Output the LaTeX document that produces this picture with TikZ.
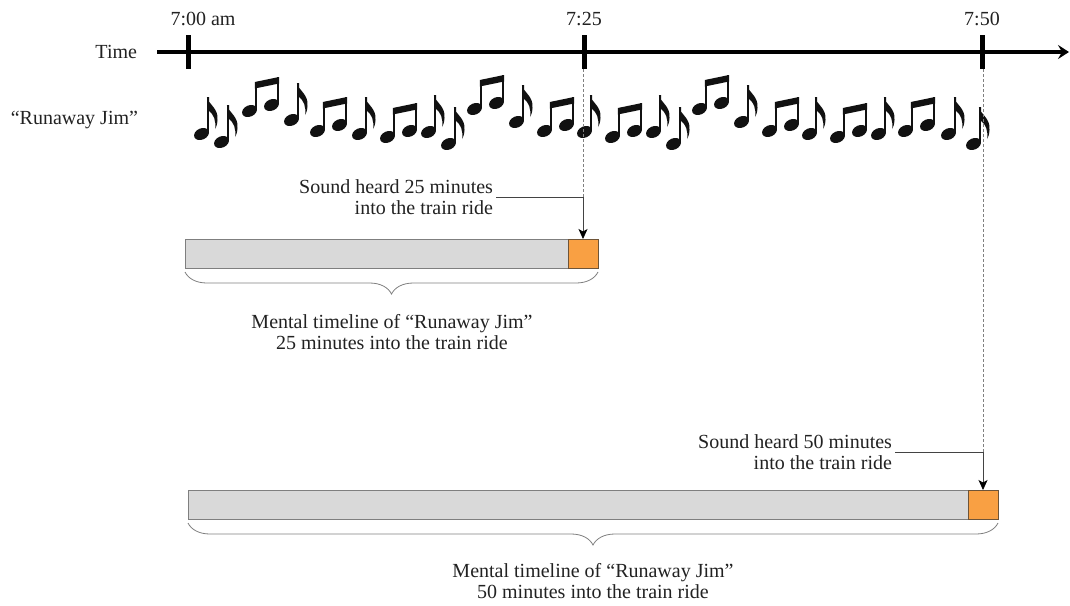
\documentclass[tikz,border=0pt]{standalone}
\usepackage{fontspec}
\setmainfont{Liberation Serif}
\usetikzlibrary{arrows.meta,decorations.pathreplacing}
\definecolor{txt}{HTML}{222222}
\definecolor{boxgray}{HTML}{D9D9D9}
\definecolor{boxedge}{HTML}{7F7F7F}
\definecolor{orng}{HTML}{F9A043}
\definecolor{orngedge}{HTML}{6E5438}
\definecolor{notec}{HTML}{111111}
\begin{document}
\begin{tikzpicture}[x=1pt,y=-1pt,
  font=\fontsize{20}{21}\selectfont, text=txt,
  every node/.style={inner sep=0pt, outer sep=0pt},
  timeline/.style={line width=4.5pt, -{Stealth[length=11pt,width=14pt,inset=4pt]}},
  tickmark/.style={line width=5pt},
  graybox/.style={draw=boxedge, fill=boxgray, line width=0.9pt, minimum height=29pt, anchor=north west},
  orangebox/.style={draw=orngedge, fill=orng, line width=0.9pt, minimum height=29pt, minimum width=30pt, anchor=north west},
  guide/.style={draw=gray, line width=0.6pt, dash pattern=on 3pt off 2pt},
  callout/.style={draw=txt!85, line width=0.8pt, -{Stealth[length=10pt,width=9pt,inset=2.5pt,color=black]}},
  bracestyle/.style={draw=gray, line width=0.8pt, decorate, decoration={brace, mirror, amplitude=22pt}},
  eighth/.pic={
    \fill[notec, rotate around={25:(6.5,37)}] (6.5,37) ellipse [x radius=7.8pt, y radius=5.6pt];
    \fill[notec] (11.8,36) rectangle (14,0);
    \fill[notec] (11.8,0) .. controls (14,8) and (23.5,11) .. (22.5,23) .. controls (22.2,27) and (21.5,29.5) .. (20.3,32) .. controls (21,24) and (19,17.5) .. (14,14) -- (14,0) -- cycle;
  },
  beamed/.pic={
    \fill[notec, rotate around={25:(7.5,34)}] (7.5,34) ellipse [x radius=7.8pt, y radius=5.6pt];
    \fill[notec, rotate around={25:(29.5,28)}] (29.5,28) ellipse [x radius=7.8pt, y radius=5.6pt];
    \fill[notec] (12.8,33) rectangle (15,5);
    \fill[notec] (34.8,27) rectangle (37,0);
    \fill[notec] (12.8,5) -- (37,0) -- (37,6.5) -- (12.8,11.5) -- cycle;
  }
]
\path[use as bounding box, fill=white] (0,0) rectangle (1070,605);

% time axis
\coordinate (tl0) at (157,52);
\coordinate (tl1) at (1069,52);
\draw[timeline] (tl0) -- (tl1);
\coordinate (k0a) at (188,35);  \coordinate (k0b) at (188,69);
\coordinate (k1a) at (584,35);  \coordinate (k1b) at (584,69);
\coordinate (k2a) at (982,35);  \coordinate (k2b) at (982,69);
\draw[tickmark] (k0a) -- (k0b);
\draw[tickmark] (k1a) -- (k1b);
\draw[tickmark] (k2a) -- (k2b);

\node[anchor=base] (l700) at (203,25) {7:00 am};
\node[anchor=base] (l725) at (584,25) {7:25};
\node[anchor=base] (l750) at (982,25) {7:50};
\node[anchor=base east] (ltime) at (137,58.6) {Time};
\node[anchor=base east] (lrun) at (138,124.6) {“Runaway Jim”};

% music notes
\pic at (195,97) {eighth};
\pic at (215,105) {eighth};
\pic at (242,77) {beamed};
\pic at (285,83) {eighth};
\pic at (310,97) {beamed};
\pic at (353,97) {eighth};
\pic at (380,103) {beamed};
\pic at (422,95) {eighth};
\pic at (442,107) {eighth};
\pic at (467,75) {beamed};
\pic at (510,85) {eighth};
\pic at (537,97) {beamed};
\pic at (578,95) {eighth};
\pic at (605,103) {beamed};
\pic at (647,95) {eighth};
\pic at (667,107) {eighth};
\pic at (692,75) {beamed};
\pic at (735,85) {eighth};
\pic at (762,97) {beamed};
\pic at (803,97) {eighth};
\pic at (830,103) {beamed};
\pic at (872,97) {eighth};
\pic at (898,97) {beamed};
\pic at (942,97) {eighth};
\pic at (967,107) {eighth};

% first mental timeline
\node[graybox, minimum width=383pt] (g1) at (185,239) {};
\node[orangebox] (o1) at (568,239) {};
\node[align=right, anchor=east] (c1) at (493,197) {Sound heard 25 minutes\\into the train ride};
\draw[guide] (o1.north |- k1b) -- (o1.north |- c1.east);
\draw[callout] ([xshift=3pt]c1.east) -| (o1.north);
\draw[bracestyle] ([yshift=-4pt]g1.south west) -- ([yshift=-4pt]o1.south east);
\node[align=center] (m1) at (392,332) {Mental timeline of “Runaway Jim”\\25 minutes into the train ride};

% second mental timeline
\node[graybox, minimum width=780pt] (g2) at (188,490) {};
\node[orangebox] (o2) at (968,490) {};
\node[align=right, anchor=east] (c2) at (892,452) {Sound heard 50 minutes\\into the train ride};
\draw[guide] (o2.north |- k2b) -- (o2.north |- c2.east);
\draw[callout] ([xshift=3pt]c2.east) -| (o2.north);
\draw[bracestyle] ([yshift=-4pt]g2.south west) -- ([yshift=-4pt]o2.south east);
\node[align=center] (m2) at (593,581) {Mental timeline of “Runaway Jim”\\50 minutes into the train ride};
\end{tikzpicture}
\end{document}
